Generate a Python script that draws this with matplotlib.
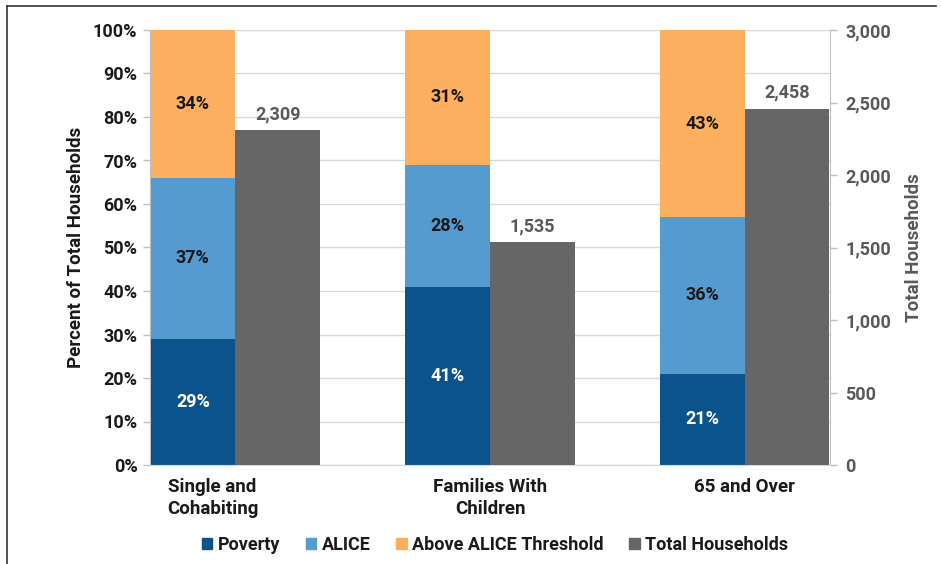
import numpy as np
import matplotlib.pyplot as plt
import matplotlib.transforms as mtransforms
from matplotlib.lines import Line2D
from matplotlib.patches import Patch
from matplotlib.ticker import FuncFormatter

plt.rcParams['font.family'] = ['Roboto', 'DejaVu Sans']

categories = ["Single and\nCohabiting", "Families With\nChildren", "65 and Over"]
poverty = [29, 41, 21]
alice = [37, 28, 36]
above = [34, 31, 43]
totals = [2309, 1535, 2458]

c_pov = "#0b538c"
c_alice = "#569bd0"
c_above = "#fcaf5e"
c_total = "#666666"
grey_txt = "#595959"
dark_txt = "#1a1a1a"

fig = plt.figure(figsize=(9.41, 5.64), dpi=100)
ax = fig.add_axes([150/941, 1 - 465/564, 680/941, 435/564])
ax2 = ax.twinx()

x = np.arange(len(categories))
w = 0.333
xs = x - w / 2
xt = x + w / 2

pov = np.array(poverty)
ali = np.array(alice)
abv = np.array(above)

ax.bar(xs, pov, w, color=c_pov, zorder=3)
ax.bar(xs, ali, w, bottom=pov, color=c_alice, zorder=3)
ax.bar(xs, abv, w, bottom=pov + ali, color=c_above, zorder=3)
ax2.bar(xt, totals, w, color=c_total, zorder=3)

fs = 13
for i in range(len(x)):
    ax.text(xs[i], pov[i] / 2, f"{pov[i]}%", ha='center', va='center',
            color='white', fontsize=fs, fontweight='bold', zorder=4)
    ax.text(xs[i], pov[i] + ali[i] / 2, f"{ali[i]}%", ha='center', va='center',
            color=dark_txt, fontsize=fs, fontweight='bold', zorder=4)
    ax.text(xs[i], pov[i] + ali[i] + abv[i] / 2, f"{abv[i]}%", ha='center', va='center',
            color=dark_txt, fontsize=fs, fontweight='bold', zorder=4)
    ax2.text(xt[i], totals[i] + 50, f"{totals[i]:,}", ha='center', va='bottom',
             color=grey_txt, fontsize=fs, fontweight='bold', zorder=4)

ax.set_xlim(-0.335, 2.335)
ax.set_ylim(0, 100)
ax.set_yticks(np.arange(0, 101, 10))
ax.yaxis.set_major_formatter(FuncFormatter(lambda v, p: f"{int(v)}%"))
ax.grid(axis='y', color='#d9d9d9', linewidth=1, zorder=0)
ax.set_axisbelow(True)

ax2.set_ylim(0, 3000)
ax2.set_yticks(np.arange(0, 3001, 500))
ax2.yaxis.set_major_formatter(FuncFormatter(lambda v, p: f"{int(v):,}"))

ax.set_xticks(x)
ax.set_xticklabels(categories, linespacing=1.35)
ax.tick_params(axis='x', length=0, pad=9, labelsize=13.5)
for lab in ax.get_xticklabels():
    lab.set_fontweight('bold')
    lab.set_color(dark_txt)
# first label is left-aligned and sits a bit to the left in the original
xl0 = ax.get_xticklabels()[0]
xl0.set_multialignment('left')
xl0.set_transform(xl0.get_transform() +
                  mtransforms.ScaledTranslation(-0.22, 0, fig.dpi_scale_trans))

ax.tick_params(axis='y', length=5, width=1, color='#bfbfbf', labelsize=fs, pad=4)
for lab in ax.get_yticklabels():
    lab.set_fontweight('bold')
    lab.set_color(dark_txt)
ax2.tick_params(axis='y', length=5, width=1, color='#bfbfbf', labelsize=fs, pad=6)
for lab in ax2.get_yticklabels():
    lab.set_fontweight('bold')
    lab.set_color(grey_txt)

for a in (ax, ax2):
    a.spines['top'].set_visible(False)
    a.spines['left'].set_color('#bfbfbf')
    a.spines['right'].set_color('#bfbfbf')
    a.spines['bottom'].set_color('#d9d9d9')
ax.spines['right'].set_visible(False)
ax2.spines['left'].set_visible(False)

ax.set_ylabel("Percent of Total Households", fontsize=13.5, fontweight='bold',
              color=dark_txt, labelpad=6)
ax2.set_ylabel("Total Households", fontsize=13.5, fontweight='bold',
               color=grey_txt, labelpad=10)

handles = [Patch(color=c_pov, label="Poverty"),
           Patch(color=c_alice, label="ALICE"),
           Patch(color=c_above, label="Above ALICE Threshold"),
           Patch(color=c_total, label="Total Households")]
leg = fig.legend(handles=handles, loc='center', bbox_to_anchor=(495/941, 1 - 545/564),
                 ncol=4, frameon=False, handlelength=0.6, handleheight=0.6,
                 handletextpad=0.3, columnspacing=1.4,
                 prop={'size': 13, 'weight': 'bold'})
for t in leg.get_texts():
    t.set_color(dark_txt)

# partial frame around the picture
fig.add_artist(Line2D([7/941, 7/941], [0, 1 - 6/564], color='#333333', linewidth=1.2))
fig.add_artist(Line2D([7/941, 936/941], [1 - 6/564, 1 - 6/564], color='#333333', linewidth=1.2))

fig.savefig("out.png", dpi=100)
